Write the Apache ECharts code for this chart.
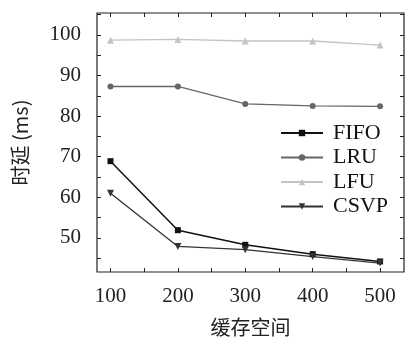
<!DOCTYPE html>
<html><head><meta charset="utf-8">
<script src="https://cdn.jsdelivr.net/npm/echarts@6/dist/echarts.min.js"></script>
<style>html,body{margin:0;padding:0;background:#fff}#c{width:405px;height:338px}</style>
</head><body><div id="c"></div>
<script>
const categories = [100, 200, 300, 400, 500];
const fifo = [68.9, 51.9, 48.3, 46.0, 44.2];
const lru  = [87.3, 87.3, 83.0, 82.5, 82.4];
const lfu  = [98.7, 98.9, 98.5, 98.5, 97.5];
const csvp = [61.0, 47.9, 47.1, 45.4, 43.8];
const yTickLabels = [50, 60, 70, 80, 90, 100];
const yTicks = [45, 50, 55, 60, 65, 70, 75, 80, 85, 90, 95, 100, 105];
const xTicks = [100, 150, 200, 250, 300, 350, 400, 450, 500];

const font = '"Liberation Serif", "DejaVu Serif", serif';
const cjk = '"Noto Sans CJK SC", sans-serif';
const pair = (arr) => categories.map((x, i) => [x, arr[i]]);
const chart = echarts.init(document.getElementById('c'), null, {renderer: 'canvas'});
const xRange = {min: 80, max: 535.5};
const yRange = {min: 41.6, max: 105.4};
chart.setOption({
  animation: false,
  backgroundColor: '#fff',
  grid: {left: 97, top: 13, right: 1, bottom: 66, outerBoundsMode: 'none', containLabel: false,
         show: true, borderColor: '#222', borderWidth: 1.2, backgroundColor: 'transparent'},
  legend: {
    orient: 'vertical', left: 280, top: 122, itemWidth: 42, itemHeight: 8, itemGap: 2.5, padding: 0,
    textStyle: {fontFamily: font, fontSize: 22, lineHeight: 22, color: '#111', padding: [0, 0, 0, 5]},
    data: ['FIFO', 'LRU', 'LFU', 'CSVP']
  },
  xAxis: [
    {type: 'value', position: 'bottom', ...xRange,
     name: '缓存空间', nameLocation: 'middle', nameGap: 45,
     nameTextStyle: {fontFamily: cjk, fontSize: 20, color: '#222', verticalAlign: 'top'},
     axisLine: {show: false}, splitLine: {show: false},
     axisTick: {show: true, inside: true, length: 4, lineStyle: {color: '#222'}, customValues: xTicks},
     axisLabel: {show: true, margin: 14, fontFamily: font, fontSize: 21, color: '#222', customValues: categories}},
    {type: 'value', position: 'top', ...xRange,
     axisLine: {show: false}, splitLine: {show: false},
     axisTick: {show: true, inside: true, length: 4, lineStyle: {color: '#222'}, customValues: xTicks},
     axisLabel: {show: false}}
  ],
  yAxis: [
    {type: 'value', position: 'left', ...yRange,
     name: '时延 (ms)', nameLocation: 'middle', nameGap: 67, nameRotate: 90,
     nameTextStyle: {fontFamily: cjk, fontSize: 20, color: '#222'},
     axisLine: {show: false}, splitLine: {show: false},
     axisTick: {show: true, inside: true, length: 4, lineStyle: {color: '#222'}, customValues: yTicks},
     axisLabel: {show: true, margin: 16, fontFamily: font, fontSize: 21, color: '#222', customValues: yTickLabels}},
    {type: 'value', position: 'right', ...yRange,
     axisLine: {show: false}, splitLine: {show: false},
     axisTick: {show: true, inside: true, length: 4, lineStyle: {color: '#222'}, customValues: yTicks},
     axisLabel: {show: false}}
  ],
  series: [
    {name: 'FIFO', type: 'line', data: pair(fifo), symbol: 'rect', symbolSize: 6,
     lineStyle: {color: '#111', width: 1.5}, itemStyle: {color: '#111'}},
    {name: 'LRU', type: 'line', data: pair(lru), symbol: 'circle', symbolSize: 6,
     lineStyle: {color: '#666', width: 1.3}, itemStyle: {color: '#666'}},
    {name: 'LFU', type: 'line', data: pair(lfu), symbol: 'triangle', symbolSize: 7,
     lineStyle: {color: '#c4c4c4', width: 1.3}, itemStyle: {color: '#c4c4c4'}},
    {name: 'CSVP', type: 'line', data: pair(csvp), symbol: 'triangle', symbolRotate: 180, symbolSize: 7,
     lineStyle: {color: '#333', width: 1.3}, itemStyle: {color: '#333'}}
  ]
});
</script></body></html>
